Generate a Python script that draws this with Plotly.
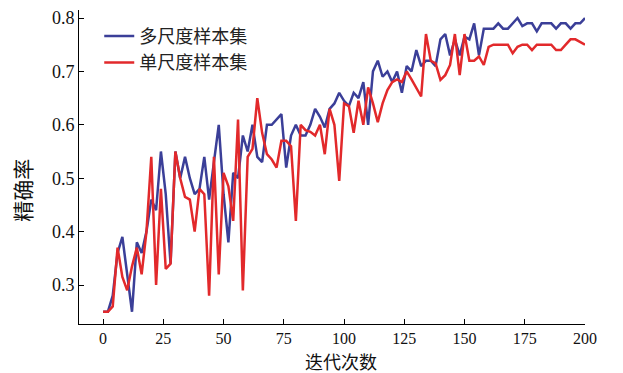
import plotly.graph_objects as go

iterations = list(range(0, 201, 2))

multi_scale = [
    0.25, 0.25, 0.28, 0.36, 0.39, 0.32, 0.25, 0.38, 0.36, 0.40,
    0.46, 0.44, 0.55, 0.47, 0.34, 0.55, 0.50, 0.54, 0.50, 0.47,
    0.48, 0.54, 0.46, 0.53, 0.60, 0.47, 0.38, 0.51, 0.50, 0.58,
    0.55, 0.60, 0.54, 0.53, 0.60, 0.60, 0.61, 0.62, 0.52, 0.58,
    0.60, 0.58, 0.58, 0.60, 0.63, 0.615, 0.595, 0.63, 0.64, 0.66,
    0.645, 0.635, 0.66, 0.65, 0.68, 0.60, 0.70, 0.72, 0.69, 0.70,
    0.68, 0.70, 0.66, 0.71, 0.70, 0.74, 0.71, 0.72, 0.72, 0.71,
    0.76, 0.77, 0.73, 0.76, 0.73, 0.765, 0.76, 0.79, 0.73, 0.78,
    0.78, 0.78, 0.79, 0.78, 0.78, 0.79, 0.80, 0.785, 0.79, 0.79,
    0.775, 0.79, 0.79, 0.79, 0.78, 0.79, 0.79, 0.78, 0.79, 0.79,
    0.80,
]

single_scale = [
    0.25, 0.25, 0.26, 0.37, 0.315, 0.29, 0.335, 0.37, 0.32, 0.40,
    0.54, 0.30, 0.48, 0.33, 0.34, 0.55, 0.50, 0.465, 0.46, 0.40,
    0.48, 0.47, 0.28, 0.54, 0.32, 0.51, 0.485, 0.42, 0.61, 0.29,
    0.54, 0.555, 0.65, 0.585, 0.545, 0.535, 0.52, 0.57, 0.57, 0.56,
    0.42, 0.60, 0.59, 0.587, 0.58, 0.60, 0.545, 0.63, 0.60, 0.495,
    0.64, 0.635, 0.585, 0.645, 0.60, 0.67, 0.64, 0.605, 0.64, 0.665,
    0.68, 0.685, 0.68, 0.70, 0.685, 0.67, 0.653, 0.77, 0.72, 0.715,
    0.684, 0.693, 0.712, 0.77, 0.693, 0.77, 0.72, 0.72, 0.728, 0.712,
    0.746, 0.75, 0.75, 0.75, 0.75, 0.734, 0.746, 0.75, 0.75, 0.74,
    0.75, 0.75, 0.75, 0.75, 0.74, 0.74, 0.75, 0.76, 0.76, 0.755,
    0.75,
]

x_ticks = [0, 25, 50, 75, 100, 125, 150, 175, 200]
y_ticks = [0.3, 0.4, 0.5, 0.6, 0.7, 0.8]

series_names = ["多尺度样本集", "单尺度样本集"]
series_colors = ["#3b3f98", "#e2292b"]
x_title = "迭代次数"
y_title = "精确率"

fig = go.Figure()
for name, vals, col in zip(series_names, [multi_scale, single_scale], series_colors):
    fig.add_trace(go.Scatter(
        x=iterations, y=vals, mode="lines", name=name,
        line=dict(color=col, width=2.5),
    ))

serif = "Liberation Serif, Times New Roman, serif"
cjk = "Noto Sans CJK SC"

# page body has an 8px default margin, so the figure is a bit smaller
fig.update_layout(
    width=615, height=365,
    margin=dict(l=71, r=38, t=2, b=49),
    paper_bgcolor="white", plot_bgcolor="white",
    showlegend=True,
    legend=dict(
        x=0.04, y=0.975, xanchor="left", yanchor="top",
        bgcolor="rgba(0,0,0,0)", borderwidth=0,
        font=dict(family=cjk, size=18, color="#222"),
        itemwidth=30, tracegroupgap=0,
    ),
    xaxis=dict(
        range=[-10, 200], tickmode="array", tickvals=x_ticks,
        ticktext=[str(v) for v in x_ticks],
        showline=True, linecolor="black", linewidth=1,
        ticks="inside", ticklen=5, tickcolor="black",
        showgrid=False, zeroline=False, automargin=False,
        tickfont=dict(family=serif, size=16, color="#111"),
    ),
    yaxis=dict(
        range=[0.227, 0.815], tickmode="array", tickvals=y_ticks,
        ticktext=[f"{v:.1f}" for v in y_ticks],
        showline=True, linecolor="black", linewidth=1,
        ticks="inside", ticklen=5, tickcolor="black",
        showgrid=False, zeroline=False, automargin=False,
        tickfont=dict(family=serif, size=18, color="#111"),
    ),
    annotations=[
        dict(text=x_title, xref="paper", yref="paper", x=0.518, y=0,
             xanchor="center", yanchor="top", yshift=-23, showarrow=False,
             borderpad=0,
             font=dict(family=cjk, size=18, color="#111")),
        dict(text=y_title, xref="paper", yref="paper", x=-0.113, y=0.427,
             xanchor="center", yanchor="middle", textangle=-90, showarrow=False,
             font=dict(family=cjk, size=21, color="#111")),
    ],
)

fig.write_html("out.html")
